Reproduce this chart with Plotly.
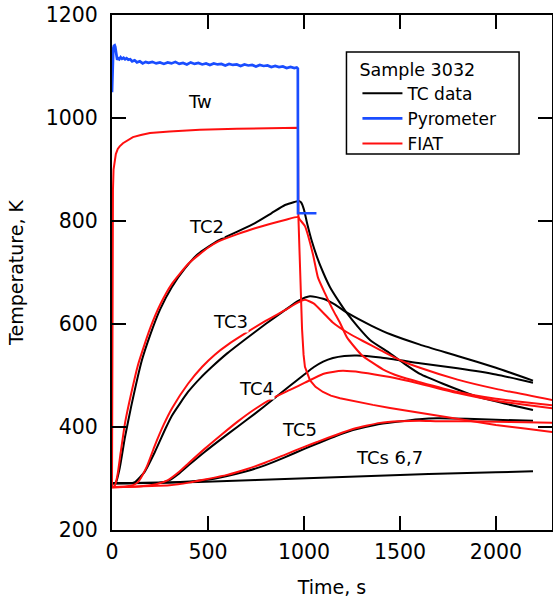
import plotly.graph_objects as go

# ---------------- data ----------------
pyro_t = [0, 2, 4, 7, 10, 14, 17, 20, 23, 27, 32, 38, 45, 52, 60, 68, 76, 85, 95, 105, 118, 130, 145, 160, 175, 190,
          210, 230, 250, 270, 290, 310, 330, 350, 370, 390, 410, 430, 450, 470, 490, 510, 530, 550, 570, 590, 610,
          630, 650, 670, 690, 710, 730, 750, 770, 790, 810, 830, 850, 870, 890, 910, 930, 950, 962, 968, 969, 970, 1065]
pyro_T = [1050, 1095, 1125, 1136, 1140, 1141, 1138, 1128, 1114, 1113, 1116, 1114, 1118, 1115, 1117, 1114, 1116, 1113,
          1114, 1110, 1112, 1108, 1110, 1106, 1109, 1107, 1109, 1106, 1108, 1105, 1108, 1106, 1109, 1105, 1107, 1104,
          1108, 1105, 1107, 1104, 1106, 1103, 1106, 1104, 1105, 1102, 1105, 1103, 1104, 1101, 1104, 1102, 1103, 1100,
          1103, 1101, 1102, 1099, 1101, 1099, 1100, 1097, 1099, 1097, 1098, 1096, 815, 815, 815]

tw_t = [0, 1, 2, 3, 5, 8, 14, 20, 30, 40, 57, 80, 109, 150, 198, 300, 458, 650, 875, 969, 971, 976, 982, 990,
        998, 1005, 1031, 1060, 1099, 1140, 1188, 1260, 1359, 1448, 1600, 1800, 2000, 2150, 2300]
tw_T = [283, 500, 700, 800, 860, 900, 920, 930, 940, 945, 951, 957, 963, 967, 971, 974, 977, 979, 980, 981, 808,
        740, 660, 590, 540, 517, 491, 478, 468, 461, 456, 450, 443, 437, 428, 415, 404, 397, 390]

tc2_t = [0, 20, 40, 68, 100, 156, 200, 250, 312, 380, 448, 552, 650, 745, 830, 901, 950, 974, 985, 1000, 1016,
         1040, 1068, 1100, 1135, 1180, 1224, 1280, 1344, 1448, 1526, 1604, 1724, 1901, 2050, 2193]
tc2_T = [291, 292, 320, 381, 440, 530, 580, 628, 672, 708, 736, 762, 779, 796, 815, 831, 837, 839, 836, 822, 796,
         762, 730, 700, 672, 645, 621, 595, 569, 543, 522, 503, 484, 459, 445, 433]

fiat2_t = [0, 15, 30, 45, 68, 100, 135, 156, 200, 250, 312, 400, 500, 552, 650, 745, 901, 970, 978, 1005, 1047,
           1073, 1109, 1150, 1188, 1224, 1300, 1411, 1500, 1604, 1800, 2000, 2150, 2300]
fiat2_T = [283, 286, 310, 350, 408, 465, 520, 545, 593, 637, 678, 718, 748, 760, 774, 786, 802, 808, 803, 790, 735,
           690, 660, 628, 602, 574, 540, 512, 498, 487, 468, 455, 448, 442]

tc3_t = [0, 100, 120, 170, 224, 280, 312, 396, 460, 521, 600, 693, 800, 901, 970, 1031, 1100, 1160, 1229, 1350,
         1450, 1604, 1800, 2000, 2193]
tc3_T = [291, 291, 293, 313, 352, 398, 422, 468, 495, 517, 543, 570, 600, 627, 645, 654, 649, 638, 621, 597, 580,
         560, 538, 515, 490]

fiat3_t = [0, 100, 135, 180, 224, 270, 312, 396, 470, 537, 604, 708, 800, 901, 970, 1005, 1050, 1100, 1150, 1224,
           1307, 1400, 1500, 1604, 1800, 2000, 2300]
fiat3_T = [283, 286, 293, 322, 365, 405, 436, 484, 517, 541, 560, 585, 606, 627, 642, 647, 640, 622, 603, 584, 567,
           549, 530, 515, 492, 474, 452]

tc4_t = [0, 250, 300, 350, 400, 484, 570, 656, 745, 833, 927, 1005, 1050, 1100, 1151, 1210, 1276, 1400, 1604, 1800,
         2000, 2193]
tc4_T = [291, 292, 297, 310, 326, 352, 377, 401, 426, 452, 480, 503, 516, 527, 534, 538, 539, 535, 524, 514, 502,
         486]

fiat4_t = [0, 150, 230, 292, 350, 400, 484, 570, 656, 745, 833, 927, 1005, 1099, 1150, 1203, 1300, 1448, 1604, 1800,
           2000, 2150, 2300]
fiat4_T = [283, 285, 289, 297, 313, 330, 358, 385, 411, 435, 455, 472, 486, 503, 507, 509, 506, 497, 484, 466, 451,
           443, 436]

tc5_t = [0, 300, 484, 600, 700, 800, 900, 1005, 1083, 1170, 1255, 1370, 1484, 1600, 1693, 1850, 2000, 2193]
tc5_T = [291, 292, 297, 305, 314, 326, 341, 358, 370, 383, 394, 404, 410, 415, 417, 416, 414, 412]

fiat5_t = [0, 300, 400, 484, 600, 700, 800, 900, 1005, 1083, 1170, 1255, 1330, 1396, 1500, 1600, 1700, 1850, 2000,
           2150, 2300]
fiat5_T = [283, 287, 292, 298, 307, 318, 331, 346, 362, 373, 385, 396, 403, 408, 411, 412, 411, 411, 410, 409, 408]

tc67_t = [0, 300, 600, 900, 1200, 1500, 1800, 2000, 2193]
tc67_T = [291, 292, 295, 299, 303, 307, 310, 312, 314]

labels = ["Tw", "TC2", "TC3", "TC4", "TC5", "TCs 6,7"]
label_t = [458, 490, 615, 755, 979, 1443]
label_T = [1033, 790, 604, 474, 396, 340]

legend_title = "Sample 3032"
names = ["TC data", "Pyrometer", "FIAT"]

x_ticks = [0, 500, 1000, 1500, 2000]
y_ticks = [200, 400, 600, 800, 1000, 1200]

# ---------------- figure ----------------
BLACK = "#000000"
RED = "#ff0f0f"
BLUE = "#1a4dff"
FONT = "DejaVu Sans"

fig = go.Figure()

black_sets = [(tc2_t, tc2_T), (tc3_t, tc3_T), (tc4_t, tc4_T), (tc5_t, tc5_T), (tc67_t, tc67_T)]
for i, (t, T) in enumerate(black_sets):
    fig.add_trace(go.Scatter(x=t, y=T, mode="lines", line=dict(color=BLACK, width=2, shape="spline", smoothing=0.5),
                             name=names[0], legendrank=1, showlegend=(i == 0)))

red_sets = [(fiat2_t, fiat2_T), (fiat3_t, fiat3_T), (fiat4_t, fiat4_T), (fiat5_t, fiat5_T)]
for i, (t, T) in enumerate(red_sets):
    fig.add_trace(go.Scatter(x=t, y=T, mode="lines", line=dict(color=RED, width=2, shape="spline", smoothing=0.5),
                             name=names[2], legendrank=3, showlegend=(i == 0)))
fig.add_trace(go.Scatter(x=tw_t, y=tw_T, mode="lines", line=dict(color=RED, width=2),
                         name=names[2], legendrank=3, showlegend=False))

fig.add_trace(go.Scatter(x=pyro_t, y=pyro_T, mode="lines", line=dict(color=BLUE, width=2.7),
                         name=names[1], legendrank=2, showlegend=True))

for txt, t, T in zip(labels, label_t, label_T):
    fig.add_annotation(x=t, y=T, text=txt, showarrow=False, font=dict(family=FONT, size=18, color=BLACK),
                       bgcolor="white", borderpad=0)

# legend frame (drawn as a paper-space rectangle so its padding matches the reference)
fig.add_shape(type="rect", xref="paper", yref="paper",
              x0=(347 - 112) / 441, x1=(520 - 112) / 441,
              y0=1 - (154 - 15) / 515, y1=1 - (52 - 15) / 515,
              line=dict(color=BLACK, width=1.5), fillcolor="white", layer="below")

axis_common = dict(showline=True, linecolor=BLACK, linewidth=2, mirror="ticks", ticks="inside", ticklen=14,
                   tickwidth=2, tickcolor=BLACK, showgrid=False, zeroline=False, automargin=False,
                   tickfont=dict(family=FONT, size=20.5, color=BLACK))

fig.update_layout(
    width=553, height=607,
    margin=dict(l=112, r=1, t=15, b=77),
    paper_bgcolor="white", plot_bgcolor="white",
    font=dict(family=FONT, color=BLACK),
    xaxis=dict(range=[0, 2292], tickvals=x_ticks, ticklabelstandoff=2,
               title=dict(text="Time, s", font=dict(family=FONT, size=19), standoff=18), **axis_common),
    yaxis=dict(range=[200, 1200], tickvals=y_ticks, ticklabelstandoff=8,
               title=dict(text="Temperature, K", font=dict(family=FONT, size=19), standoff=17), **axis_common),
    legend=dict(x=(358 - 112) / 441, y=1 - (53 - 15) / 515, xanchor="left", yanchor="top",
                bgcolor="rgba(0,0,0,0)", borderwidth=0, font=dict(family=FONT, size=17, color=BLACK),
                title=dict(text=legend_title, font=dict(family=FONT, size=17.5, color=BLACK)),
                tracegroupgap=0, itemwidth=40),
    showlegend=True,
)

fig.write_html("out.html", config={"displayModeBar": False},
               post_script="document.body.style.margin='0';document.body.style.overflow='hidden';")
